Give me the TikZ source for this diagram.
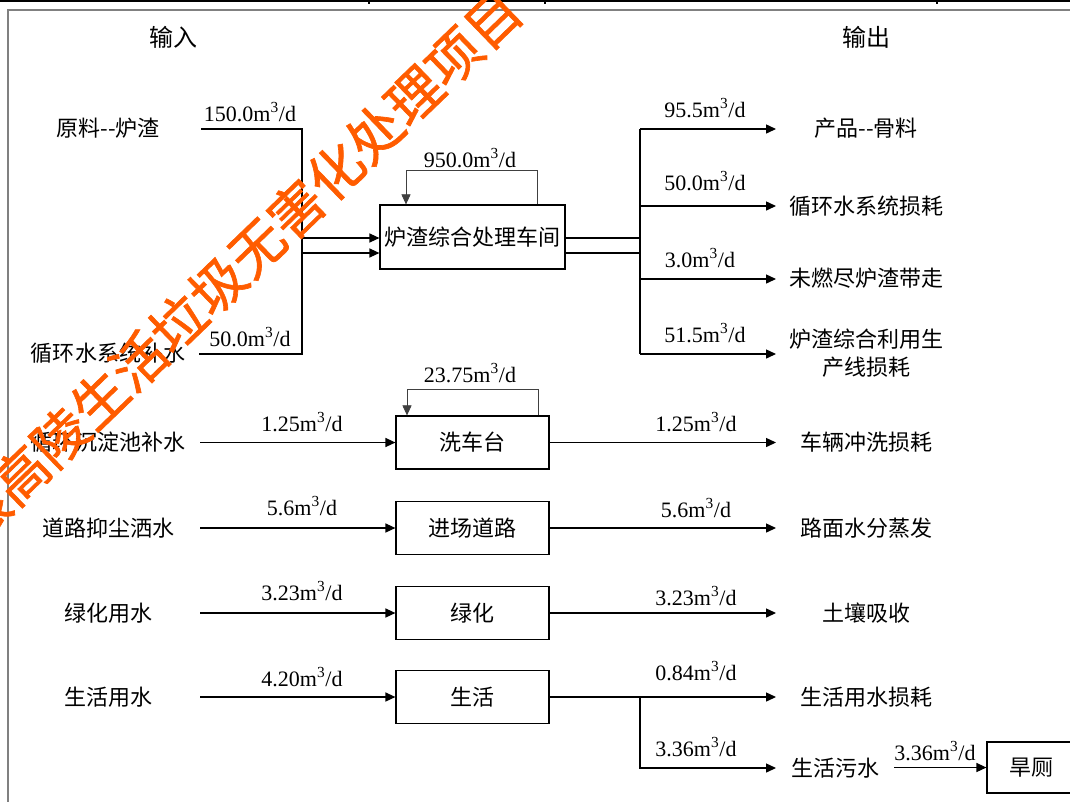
\documentclass[tikz,border=0pt]{standalone}
\usepackage{fontspec}
\setmainfont{Liberation Serif}
\newfontfamily\cjk{Noto Sans CJK SC}
\newfontfamily\wmfont{Noto Sans CJK SC}[FakeBold=1.2]
\usetikzlibrary{arrows.meta}
\definecolor{wmcolor}{RGB}{255,92,0}
\definecolor{framecolor}{RGB}{128,128,128}
\newcommand\flow[1]{#1m\textsuperscript{3}/d}
\begin{document}
\begin{tikzpicture}[x=0.75pt,y=-0.75pt,
  lab/.style={font=\cjk\fontsize{16.5}{21}\selectfont, inner sep=0pt, align=center},
  ttl/.style={font=\cjk\fontsize{18}{21}\selectfont, inner sep=0pt},
  num/.style={font=\fontsize{16.5}{19}\selectfont, inner sep=0pt},
  procbox/.style={draw, line width=0.9pt, inner sep=0pt, font=\cjk\fontsize{16.5}{19}\selectfont},
  smallbox/.style={procbox, minimum width=114.75pt, minimum height=39.75pt},
  ln/.style={line width=0.9pt},
  arr/.style={ln, -{Triangle[length=7.5pt,width=6.8pt]}},
  looparr/.style={line width=0.5pt, black!75, -{Triangle[length=7.5pt,width=6.8pt]}},
  wmtext/.style={font=\wmfont\fontsize{41}{41}\selectfont, text=wmcolor, inner sep=0pt}
]
\useasboundingbox (0,0) rectangle (1070,801);
\clip (0,0) rectangle (1070,801);

% page frame
\draw[framecolor, line width=1.5pt] (8,820) -- (8,10) -- (1090,10);
\draw[line width=2pt] (0,1) -- (1070,1);
\draw[line width=1pt] (369,0) -- (369,4);
\draw[line width=1pt] (545,0) -- (545,4);
\draw[line width=1pt] (937,0) -- (937,4);

% titles
\node[ttl] (tin) at (173,37) {输入};
\node[ttl] (tout) at (866,37) {输出};

% inputs
\node[lab] (in1) at (108,128) {原料-{}-炉渣};
\node[lab] (in2) at (108,353) {循环水系统补水};
\node[lab] (in3) at (108,442) {循环沉淀池补水};
\node[lab] (in4) at (108,528) {道路抑尘洒水};
\node[lab] (in5) at (108,613) {绿化用水};
\node[lab] (in6) at (108,697) {生活用水};

% outputs
\node[lab] (out1) at (866,128) {产品-{}-骨料};
\node[lab] (out2) at (866,206) {循环水系统损耗};
\node[lab] (out3) at (866,278) {未燃尽炉渣带走};
\node[lab] (out4) at (866,353) {炉渣综合利用生\\产线损耗};
\node[lab] (out5) at (866,442) {车辆冲洗损耗};
\node[lab] (out6) at (866,528) {路面水分蒸发};
\node[lab] (out7) at (866,613) {土壤吸收};
\node[lab] (out8) at (866,697) {生活用水损耗};
\node[lab] (sew) at (835,768) {生活污水};

% process boxes
\node[procbox, minimum width=138.75pt, minimum height=48pt] (mbox) at (472.5,237) {炉渣综合处理车间};
\node[smallbox] (wash) at (472.5,442.5) {洗车台};
\node[smallbox] (road) at (472.5,528) {进场道路};
\node[smallbox] (green) at (472.5,613) {绿化};
\node[smallbox] (life) at (472.5,697) {生活};
\node[procbox, minimum width=66pt, minimum height=38.25pt] (toilet) at (1031,767.5) {旱厕};

% helper coordinates
\coordinate (tip) at (776,0);
\coordinate (a1) at (201,129);
\coordinate (c1) at (302,129);
\coordinate (c2) at (302,354);
\coordinate (a2) at (199,354);
\coordinate (m1) at (302,238);
\coordinate (m2) at (302,253);
\coordinate (n1) at (640,238);
\coordinate (n2) at (640,253);
\coordinate (v1) at (640,129);
\coordinate (v2) at (640,206);
\coordinate (v3) at (640,279);
\coordinate (v4) at (640,354);
\coordinate (lp1) at (537,170);
\coordinate (lp2) at (406,170);
\coordinate (lq1) at (538,389);
\coordinate (lq2) at (407,389);
\coordinate (s3) at (200,442.5);
\coordinate (s4) at (200,528);
\coordinate (s5) at (200,613);
\coordinate (s6) at (200,697);
\coordinate (b1) at (640,697);
\coordinate (b2) at (640,768);
\coordinate (s7) at (894,767.5);

% main process connectors
\draw[ln] (a1) -- (c1) -- (c2) -- (a2);
\draw[arr] (m1) -- (m1 -| mbox.west);
\draw[arr] (m2) -- (m2 -| mbox.west);
\draw[ln] (n1 -| mbox.east) -- (n1);
\draw[ln] (n2 -| mbox.east) -- (n2);
\draw[ln] (v1) -- (v4);
\draw[arr] (v1) -- (v1 -| tip);
\draw[arr] (v2) -- (v2 -| tip);
\draw[arr] (v3) -- (v3 -| tip);
\draw[arr] (v4) -- (v4 -| tip);
\draw[looparr] (mbox.north -| lp1) -- (lp1) -- (lp2) -- (lp2 |- mbox.north);

% wash
\draw[arr] (s3) -- (s3 -| wash.west);
\draw[arr] (wash.east) -- (wash.east -| tip);
\draw[looparr] (wash.north -| lq1) -- (lq1) -- (lq2) -- (lq2 |- wash.north);
% road
\draw[arr] (s4) -- (s4 -| road.west);
\draw[arr] (road.east) -- (road.east -| tip);
% green
\draw[arr] (s5) -- (s5 -| green.west);
\draw[arr] (green.east) -- (green.east -| tip);
% life
\draw[arr] (s6) -- (s6 -| life.west);
\draw[arr] (life.east) -- (life.east -| tip);
\draw[arr] (b1) -- (b2) -- (b2 -| tip);
\draw[arr] (s7) -- (toilet.west);

% flow labels
\node[num] (f1) at (250,112) {\flow{150.0}};
\node[num] (f2) at (250,337) {\flow{50.0}};
\node[num] (f3) at (470,158) {\flow{950.0}};
\node[num] (f4) at (705,108) {\flow{95.5}};
\node[num] (f5) at (705,181) {\flow{50.0}};
\node[num] (f6) at (700,258) {\flow{3.0}};
\node[num] (f7) at (705,333) {\flow{51.5}};
\node[num] (f8) at (470,373) {\flow{23.75}};
\node[num] (f9) at (302,422) {\flow{1.25}};
\node[num] (f10) at (696,422) {\flow{1.25}};
\node[num] (f11) at (302,506) {\flow{5.6}};
\node[num] (f12) at (696,508) {\flow{5.6}};
\node[num] (f13) at (302,591) {\flow{3.23}};
\node[num] (f14) at (696,596) {\flow{3.23}};
\node[num] (f15) at (302,677) {\flow{4.20}};
\node[num] (f16) at (696,671) {\flow{0.84}};
\node[num] (f17) at (696,747) {\flow{3.36}};
\node[num] (f18) at (935,751) {\flow{3.36}};

% watermark
\node[wmtext, rotate=44] (wmk) at (237,266) {限高陵生活垃圾无害化处理项目};
\end{tikzpicture}
\end{document}
